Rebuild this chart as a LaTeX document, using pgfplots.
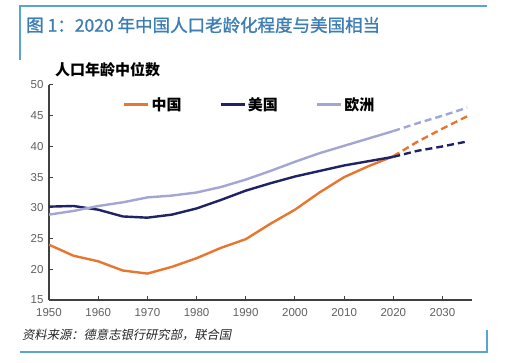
\documentclass[border=0pt]{standalone}
\usepackage{fontspec}
\setmainfont{Liberation Sans}
\newfontfamily\cjk{Noto Sans CJK SC}
\newfontfamily\cjkm{Noto Sans CJK SC}[FakeBold=1.2]
\newfontfamily\cjkit{Noto Sans CJK SC}[FakeSlant=0.2]
\usepackage{pgfplots}
\pgfplotsset{compat=1.18}
\definecolor{framec}{HTML}{5AA5CF}
\definecolor{titlec}{HTML}{3C7DB4}
\definecolor{cn}{HTML}{E8762E}
\definecolor{us}{HTML}{1F2266}
\definecolor{eu}{HTML}{A3A6D4}
\definecolor{axc}{HTML}{404040}
\definecolor{tickc}{HTML}{606060}
\begin{document}
\begin{tikzpicture}[x=1pt,y=1pt]
\path (0,0) rectangle (507,363);
\draw[framec, line width=2pt] (20,303) -- (20,357) -- (487,357);
\draw[framec, line width=2pt] (20,11) -- (487,11) -- (487,33);
\node[anchor=west, text=titlec, font=\cjkm\fontsize{17.5}{20}\selectfont, inner sep=0] at (26,338) {图 1：2020 年中国人口老龄化程度与美国相当};
\node[anchor=west, font=\cjk\bfseries\fontsize{15}{18}\selectfont, inner sep=0] at (55,293) {人口年龄中位数};
\node[anchor=west, font=\cjkit\fontsize{12.3}{14}\selectfont, inner sep=0, text=black!85] at (22,28) {资料来源：德意志银行研究部，联合国};
\begin{axis}[
  at={(49pt,63pt)}, anchor=south west,
  scale only axis, width=423pt, height=215pt,
  xmin=1950, xmax=2036, ymin=15, ymax=50,
  axis lines=left,
  axis line style={-, draw=axc, line width=1.1pt},
  xtick={1950,1960,...,2030}, ytick={15,20,...,50},
  tick align=inside, major tick length=4pt,
  tick style={draw=axc, line width=1pt},
  /pgf/number format/1000 sep={},
  /pgf/number format/assume math mode=true,
  ticklabel style={font=\fontsize{11.5}{13}\selectfont, text=tickc},
  xticklabel style={yshift=-5pt},
  yticklabel style={xshift=-2pt},
  legend style={at={(0.17,0.91)}, anchor=west, draw=none, fill=none,
    font=\cjk\bfseries\fontsize{15}{18}\selectfont,
    /tikz/every even column/.append style={column sep=36pt},
    inner xsep=2pt},
  legend columns=3,
  legend image code/.code={\draw[#1] (0pt,0pt) -- (24pt,0pt);},
  line join=round,
]
\addplot[cn, line width=2.4pt] coordinates {(1950,24.0)(1955,22.2)(1960,21.3)(1965,19.8)(1970,19.3)(1975,20.4)(1980,21.8)(1985,23.5)(1990,24.9)(1995,27.4)(2000,29.7)(2005,32.5)(2010,35.0)(2015,36.8)(2020,38.4)};
\addlegendentry{中国}
\addplot[us, line width=2.4pt] coordinates {(1950,30.2)(1955,30.3)(1960,29.7)(1965,28.6)(1970,28.4)(1975,28.9)(1980,29.9)(1985,31.3)(1990,32.8)(1995,34.0)(2000,35.1)(2005,36.0)(2010,36.9)(2015,37.6)(2020,38.3)};
\addlegendentry{美国}
\addplot[eu, line width=2.4pt] coordinates {(1950,28.9)(1955,29.5)(1960,30.3)(1965,30.9)(1970,31.7)(1975,32.0)(1980,32.5)(1985,33.4)(1990,34.6)(1995,36.0)(2000,37.5)(2005,38.9)(2010,40.1)(2015,41.3)(2020,42.5)};
\addlegendentry{欧洲}
\addplot[eu, line width=2.4pt, dash pattern=on 7pt off 4pt, forget plot] coordinates {(2020,42.5)(2025,43.8)(2030,45.0)(2035,46.3)};
\addplot[cn, line width=2.4pt, dash pattern=on 7pt off 4pt, forget plot] coordinates {(2020,38.4)(2025,40.8)(2030,42.9)(2035,44.9)};
\addplot[us, line width=2.4pt, dash pattern=on 7pt off 4pt, forget plot] coordinates {(2020,38.3)(2025,39.3)(2030,40.0)(2035,40.8)};
\end{axis}
\end{tikzpicture}
\end{document}
